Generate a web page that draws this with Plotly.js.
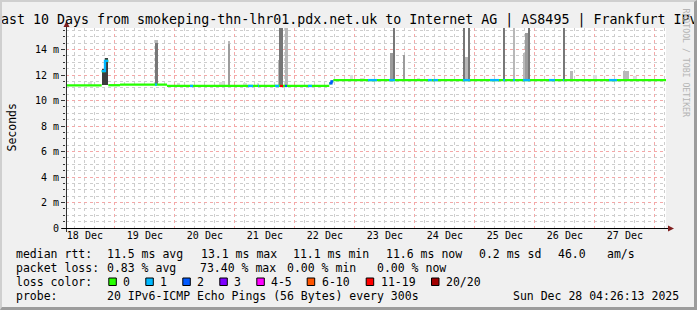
<!DOCTYPE html>
<html><head><meta charset="utf-8">
<script src="https://cdn.plot.ly/plotly-3.0.1.min.js"></script>
<style>
html,body{margin:0;padding:0;background:#f0f0f0;overflow:hidden}
#wrap{position:relative;width:697px;height:310px}
#chart{width:697px;height:310px}
#frame{position:absolute;left:0;top:0;width:697px;height:310px;box-sizing:border-box;border-top:2px solid #cfcfcf;border-left:2px solid #cfcfcf;border-right:3px solid #9c9c9c;border-bottom:3px solid #9c9c9c;pointer-events:none}
</style></head><body>
<div id="wrap"><div id="chart"></div><div id="frame"></div></div>
<script>
// ---------------- data ----------------
const rangeStart = '2025-12-18 04:26:13';
const rangeEnd   = '2025-12-28 04:26:13';

// median RTT (ms) as a step function
const medianTimes = ['2025-12-18 04:26','2025-12-18 18:43','2025-12-18 20:02','2025-12-18 21:21','2025-12-19 02:02','2025-12-19 20:50','2025-12-22 13:45','2025-12-22 14:38','2025-12-22 15:21'];
const medianMs    = [11.18, 12.3, 13.1, 11.2, 11.25, 11.14, 11.35, 11.5, 11.6];

// packet-loss episodes (pings lost out of 20)
const lossStart = ['2025-12-18 18:43','2025-12-19 16:02','2025-12-20 06:02','2025-12-21 05:14','2025-12-21 09:14','2025-12-21 16:02','2025-12-21 18:02','2025-12-21 20:02','2025-12-22 05:14','2025-12-22 13:45','2025-12-23 05:14','2025-12-23 13:38','2025-12-24 05:14','2025-12-24 07:20','2025-12-24 19:14','2025-12-25 06:02','2025-12-25 11:14','2025-12-25 15:14','2025-12-25 19:14','2025-12-26 05:38','2025-12-26 11:14','2025-12-27 05:38'];
const lossEnd   = ['2025-12-18 21:21','2025-12-19 16:50','2025-12-20 07:14','2025-12-21 07:14','2025-12-21 09:38','2025-12-21 17:38','2025-12-21 19:14','2025-12-21 20:50','2025-12-22 06:50','2025-12-22 15:21','2025-12-23 08:50','2025-12-23 16:02','2025-12-24 06:50','2025-12-24 09:14','2025-12-24 22:02','2025-12-25 09:38','2025-12-25 12:02','2025-12-25 16:02','2025-12-25 22:02','2025-12-26 08:02','2025-12-26 11:38','2025-12-27 08:50'];
const lossCount = [1,1,1,1,1,1,12,2,1,2,1,1,1,1,1,1,1,1,1,1,1,1];

// smoke (spread of the 20 pings): low and high edge (ms) and how many pings reach the high edge
const smokeStart = ['2025-12-18 13:14','2025-12-18 18:43','2025-12-18 20:02','2025-12-19 16:02','2025-12-19 16:02','2025-12-20 00:50','2025-12-20 17:38','2025-12-20 21:07','2025-12-20 21:07','2025-12-21 03:14','2025-12-21 08:50','2025-12-21 17:05','2025-12-21 17:45','2025-12-21 20:09','2025-12-22 22:02','2025-12-23 02:02','2025-12-23 14:02','2025-12-23 15:21','2025-12-23 19:07','2025-12-24 00:50','2025-12-24 19:07','2025-12-24 20:02','2025-12-24 21:07','2025-12-25 11:07','2025-12-25 15:07','2025-12-25 19:07','2025-12-25 20:09','2025-12-25 21:07','2025-12-26 11:07','2025-12-26 14:02','2025-12-26 23:14','2025-12-27 11:14','2025-12-27 15:14'];
const smokeEnd   = ['2025-12-18 14:50','2025-12-18 20:02','2025-12-18 21:21','2025-12-19 17:07','2025-12-19 17:07','2025-12-20 02:02','2025-12-20 19:38','2025-12-20 22:02','2025-12-20 22:02','2025-12-21 04:50','2025-12-21 09:38','2025-12-21 17:45','2025-12-21 19:07','2025-12-21 21:21','2025-12-22 23:14','2025-12-23 04:02','2025-12-23 15:21','2025-12-23 16:02','2025-12-23 20:02','2025-12-24 02:02','2025-12-24 20:02','2025-12-24 21:07','2025-12-24 22:02','2025-12-25 12:02','2025-12-25 16:02','2025-12-25 20:09','2025-12-25 21:07','2025-12-25 22:02','2025-12-26 11:55','2025-12-26 15:14','2025-12-27 00:50','2025-12-27 13:38','2025-12-27 16:50'];
const smokeLow   = [11.18, 11.2, 11.2, 11.25, 11.25, 11.25, 11.14, 11.14, 11.14, 11.14, 11.14, 11.14, 11.14, 11.14, 11.6, 11.6, 11.6, 11.6, 11.6, 11.6, 11.6, 11.6, 11.6, 11.6, 11.6, 11.6, 11.6, 11.6, 11.6, 11.6, 11.6, 11.6, 11.6];
const smokeTop   = [11.45, 12.45, 13.3, 14.75, 14.5, 11.35, 11.45, 14.65, 14.45, 11.4, 11.4, 13.2, 16.5, 16.5, 12.0, 11.8, 13.7, 16.5, 13.6, 11.8, 16.5, 13.4, 16.5, 16.5, 16.5, 13.7, 15.3, 16.5, 16.5, 12.3, 12.0, 12.35, 11.9];
const smokeDensity = [0, 4, 4, 1, 3, 0, 0, 1, 2, 0, 0, 1, 3, 1, 0, 0, 2, 3, 2, 0, 3, 1, 3, 3, 1, 1, 2, 3, 3, 1, 0, 1, 0];

// legend text values
const rttStats  = ['11.5','13.1','11.1','11.6'];
const rttSd = '0.2', amS = '46.0';
const lossStats = ['0.83','73.40','0.00','0.00'];
const lossLabels = ['0','1','2','3','4-5','6-10','11-19','20/20'];
const yTickVals = [0,2,4,6,8,10,12,14];
const yTickText = ['0','2 m','4 m','6 m','8 m','10 m','12 m','14 m'];

// ---------------- styles ----------------
const lossColors = ['#26ff00','#00b8ff','#0059ff','#7e00ff','#ff00ff','#ff5500','#ff0000','#a10000'];
const smokeColors = ['#dcdcdc','#b8b8b8','#9c9c9c','#777777','#3c3c3c'];
const MONO = 'DejaVu Sans Mono';

const T = s => new Date(s.replace(' ','T') + 'Z').getTime();
const mT = medianTimes.map(T);
function medianAt(t){ let v = medianMs[0]; for (let i=0;i<mT.length;i++){ if (mT[i] <= t) v = medianMs[i]; } return v; }
function lossIdx(c){ if (c<=0) return 0; if (c===1) return 1; if (c===2) return 2; if (c===3) return 3; if (c<=5) return 4; if (c<=10) return 5; if (c<=19) return 6; return 7; }

const traces = [];
// smoke bars, lighter first
const order = smokeTop.map((_,i)=>i).sort((a,b)=>smokeDensity[a]-smokeDensity[b]);
traces.push({
  type:'bar',
  x: order.map(i => (T(smokeStart[i]) + T(smokeEnd[i]))/2),
  width: order.map(i => T(smokeEnd[i]) - T(smokeStart[i])),
  base: order.map(i => smokeLow[i]),
  y: order.map(i => smokeTop[i] - smokeLow[i]),
  marker:{color: order.map(i => smokeColors[smokeDensity[i]]), line:{width:0}},
  hoverinfo:'skip', showlegend:false
});
// median line (no loss): horizontal runs
const gx = [], gy = [];
mT.forEach((t,i)=>{
  const t2 = i < mT.length-1 ? mT[i+1] : T(rangeEnd);
  gx.push(t, t2, null); gy.push(medianMs[i], medianMs[i], null);
});
traces.push({
  type:'scatter', mode:'lines', x: gx, y: gy, connectgaps:false,
  line:{color: lossColors[0], width:2.3},
  hoverinfo:'skip', showlegend:false
});
// loss-coloured median segments
const segs = {};
lossStart.forEach((s,i)=>{
  const a = T(s), b = T(lossEnd[i]);
  const ci = lossIdx(lossCount[i]);
  if (!segs[ci]) segs[ci] = {x:[], y:[]};
  const xs = [a], ys = [medianAt(a)];
  mT.forEach((t,k)=>{ if (t > a && t < b){ xs.push(t); ys.push(medianMs[k]); } });
  xs.push(b); ys.push(medianAt(b - 1));
  segs[ci].x.push(...xs, null); segs[ci].y.push(...ys, null);
});
Object.keys(segs).forEach(ci=>{
  traces.push({type:'scatter', mode:'lines', x:segs[ci].x, y:segs[ci].y, connectgaps:false,
    line:{shape:'hv', color: lossColors[ci], width:2.3}, hoverinfo:'skip', showlegend:false});
});
// empty trace registering the overlay axes (major grid + labels)
traces.push({type:'scatter', mode:'lines', x:[], y:[], xaxis:'x2', yaxis:'y2', hoverinfo:'skip', showlegend:false});

// ---------------- layout helpers ----------------
const L0 = 66, B0 = 228, PW = 600, PH = 200;
const px = x => (x - L0) / PW;
const py = y => (B0 - y) / PH;
const ann = [];
function txt(x, y, text, opt){
  ann.push(Object.assign({xref:'paper', yref:'paper', x:px(x), y:py(y), text:text, showarrow:false,
    xanchor:'left', yanchor:'middle', font:{family:MONO, size:11.5, color:'#000'}, borderpad:0, borderwidth:0}, opt||{}));
}
txt(348.5, 20, 'Last 10 Days from smokeping-thn-lhr01.pdx.net.uk to Internet AG | AS8495 | Frankfurt IPv6', {xanchor:'center', font:{family:MONO, size:13.3, color:'#000'}});
txt(11, 127.5, 'Seconds', {xanchor:'center', textangle:-90});
txt(686, 62.5, 'RRDTOOL / TOBI OETIKER', {xanchor:'center', textangle:90, font:{family:MONO, size:8.2, color:'#b4b4b4'}});

const line1 = ['median rtt:', rttStats[0]+' ms avg', rttStats[1]+' ms max', rttStats[2]+' ms min', rttStats[3]+' ms now', rttSd+' ms sd', amS, 'am/s'];
const line1x = [16, 107.3, 201, 293.3, 386, 479.3, 558.3, 607.3];
line1.forEach((t,i)=>txt(line1x[i], 254, t));
const line2 = ['packet loss:', lossStats[0]+' % avg', lossStats[1]+' % max', lossStats[2]+' % min', lossStats[3]+' % now'];
const line2x = [16, 107.3, 200, 286.7, 376.7];
line2.forEach((t,i)=>txt(line2x[i], 268, t));
txt(16, 282, 'loss color:');
const boxX = [108.3, 145.3, 182.3, 219.3, 256.3, 306.7, 365.7, 431];
const shapes = [];
lossLabels.forEach((lab,i)=>{
  shapes.push({type:'rect', xref:'paper', yref:'paper', x0:px(boxX[i]+0.5), x1:px(boxX[i]+8), y0:py(285.5), y1:py(278), fillcolor:lossColors[i], line:{color:'#000', width:1}});
  txt(boxX[i]+15, 282, lab);
});
txt(16, 296, 'probe:');
txt(107.3, 296, '20 IPv6-ICMP Echo Pings (56 Bytes) every 300s');
txt(513.3, 296, 'Sun Dec 28 04:26:13 2025');

// axes with arrows
shapes.push({type:'line', xref:'paper', yref:'paper', x0:px(66.5), x1:px(66.5), y0:py(232), y1:py(25), line:{color:'#333', width:1}});
shapes.push({type:'path', xref:'paper', yref:'paper', path:`M ${px(63.5)} ${py(27)} L ${px(69.5)} ${py(27)} L ${px(66.5)} ${py(21)} Z`, fillcolor:'#7f1f1f', line:{width:0}});
shapes.push({type:'line', xref:'paper', yref:'paper', x0:px(62), x1:px(669), y0:py(228.5), y1:py(228.5), line:{color:'#000', width:1}});
shapes.push({type:'path', xref:'paper', yref:'paper', path:`M ${px(668)} ${py(225.5)} L ${px(668)} ${py(231.5)} L ${px(674)} ${py(228.5)} Z`, fillcolor:'#7f1f1f', line:{width:0}});

const MGRID = '#f4a8a8', GRID = '#cdcdcd';
const yRange = [0, 200/12.75];
const layout = {
  width:697, height:310,
  margin:{l:66, r:31, t:28, b:82, pad:0},
  paper_bgcolor:'#f0f0f0', plot_bgcolor:'#ffffff',
  font:{family:MONO, size:10, color:'#000'},
  showlegend:false, barmode:'overlay', bargap:0,
  // minor grid (4 h / 0.5 ms)
  xaxis:{type:'date', range:[rangeStart, rangeEnd], tick0:'2025-12-18', dtick:14400000, showticklabels:false,
    showgrid:true, gridcolor:GRID, griddash:'dot', gridwidth:1, ticks:'', showline:false, zeroline:false, fixedrange:true},
  yaxis:{range:yRange, tick0:0, dtick:0.5, showticklabels:false,
    showgrid:true, gridcolor:GRID, griddash:'dot', gridwidth:1, ticks:'outside', ticklen:2, tickcolor:'#333', showline:false, zeroline:false, fixedrange:true},
  // major grid (days / 2 ms) with labels
  xaxis2:{type:'date', overlaying:'x', anchor:'y', side:'bottom', range:[rangeStart, rangeEnd], tick0:'2025-12-18', dtick:86400000,
    tickformat:'%d %b', ticklabelmode:'period', showgrid:true, gridcolor:MGRID, griddash:'dot', gridwidth:1, ticks:'',
    showline:false, zeroline:false, fixedrange:true, tickfont:{family:MONO, size:10, color:'#000'}},
  yaxis2:{overlaying:'y', anchor:'x', side:'left', range:yRange, tickmode:'array', tickvals:yTickVals, ticktext:yTickText,
    showgrid:true, gridcolor:MGRID, griddash:'dot', gridwidth:1, ticks:'outside', ticklen:4, tickcolor:'#333',
    showline:false, zeroline:false, fixedrange:true, tickfont:{family:MONO, size:10, color:'#000'}},
  annotations:ann, shapes:shapes
};
Plotly.newPlot('chart', traces, layout, {staticPlot:true, displayModeBar:false});
</script></body></html>
